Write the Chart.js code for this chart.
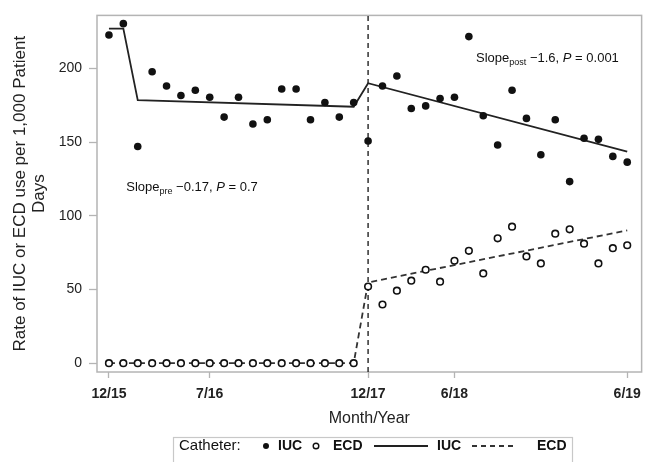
<!DOCTYPE html>
<html lang="en">
<head>
    <meta charset="UTF-8">
    <title>IUC and ECD use</title>
    <style>
        body {
            margin: 0;
            background: #fff;
        }
        .chart-container {
            position: relative;
            width: 649px;
            height: 462px;
        }
    </style>
</head>
<body>
    <div class="chart-container">
        <canvas id="rateChart"></canvas>
    </div>
    <script src="https://cdn.jsdelivr.net/npm/chart.js"></script>
    <script>
        // observation index along x; labels only at a few of them
        const tickIndex = [0, 7, 18, 24, 36];
        const tickLabels = ['12/15', '7/16', '12/17', '6/18', '6/19'];
        const yTicks = [0, 50, 100, 150, 200];

        const iucRate = [222.7, 230.4, 147, 197.8, 188.1, 181.6, 185.2, 180.5, 167, 180.5,
            162.3, 165.2, 186.1, 186.1, 165.2, 176.9, 167, 176.9, 150.8,
            188.1, 194.9, 172.8, 174.6, 179.6, 180.5, 221.6, 167.9, 148.1, 185.2,
            166.1, 141.4, 165.2, 123.2, 152.6, 151.9, 140.3, 136.4];
        const ecdRate = [0, 0, 0, 0, 0, 0, 0, 0, 0, 0, 0, 0, 0, 0, 0, 0, 0, 0,
            52, 39.8, 49.2, 56, 63.4, 55.3, 69.5, 76.2, 60.9, 84.7, 92.6,
            72.4, 67.7, 87.9, 90.8, 81.1, 67.7, 78, 80];

        // fitted segmented regression, vertices only
        const iucFitX = [0, 1, 2, 17, 18, 36];
        const iucFitY = [227, 227, 178.5, 174, 190, 143.6];
        const ecdFitX = [0, 17, 18, 36];
        const ecdFitY = [0, 0, 54.8, 90.1];

        const interventionAt = 18;

        const xy = (xs, ys) => xs.map((x, i) => ({ x: x, y: ys[i] }));
        const byIndex = (ys) => ys.map((y, i) => ({ x: i, y: y }));

        const INK = '#111';
        const GRAY = '#b4b4b4';

        const framePlugin = {
            id: 'frame',
            beforeDatasetsDraw(chart) {
                const { ctx, chartArea: a } = chart;
                ctx.save();
                ctx.strokeStyle = GRAY;
                ctx.lineWidth = 1.5;
                ctx.strokeRect(a.left, a.top, a.right - a.left, a.bottom - a.top);
                ctx.restore();
            }
        };

        function slopeText(ctx, x, y, sub, rest, pval) {
            ctx.textBaseline = 'middle';
            ctx.textAlign = 'left';
            ctx.fillStyle = INK;
            ctx.font = '13px "Liberation Sans", Arial, sans-serif';
            ctx.fillText('Slope', x, y);
            x += ctx.measureText('Slope').width;
            ctx.font = '9px "Liberation Sans", Arial, sans-serif';
            ctx.fillText(sub, x, y + 4);
            x += ctx.measureText(sub).width;
            ctx.font = '13px "Liberation Sans", Arial, sans-serif';
            const s1 = ' ' + rest + ', ';
            ctx.fillText(s1, x, y);
            x += ctx.measureText(s1).width;
            ctx.font = 'italic 13px "Liberation Sans", Arial, sans-serif';
            ctx.fillText('P', x, y);
            x += ctx.measureText('P').width;
            ctx.font = '13px "Liberation Sans", Arial, sans-serif';
            ctx.fillText(' = ' + pval, x, y);
        }

        const notesPlugin = {
            id: 'notes',
            afterDatasetsDraw(chart) {
                const { ctx, scales } = chart;
                ctx.save();
                slopeText(ctx, scales.x.getPixelForValue(1.2), scales.y.getPixelForValue(119),
                    'pre', '\u22120.17', '0.7');
                slopeText(ctx, scales.x.getPixelForValue(25.5), scales.y.getPixelForValue(207),
                    'post', '\u22121.6', '0.001');
                ctx.restore();
            }
        };

        const legendPlugin = {
            id: 'catheterLegend',
            afterDraw(chart) {
                const { ctx } = chart;
                const ds = chart.data.datasets;
                const cy = 446;
                ctx.save();
                ctx.strokeStyle = '#c8c8c8';
                ctx.lineWidth = 1.2;
                ctx.strokeRect(173.5, 437.5, 399, 26);
                ctx.fillStyle = INK;
                ctx.textBaseline = 'middle';
                ctx.textAlign = 'left';
                ctx.font = '15px "Liberation Sans", Arial, sans-serif';
                ctx.fillText('Catheter:', 179, cy);
                ctx.font = 'bold 14px "Liberation Sans", Arial, sans-serif';

                // filled marker
                ctx.beginPath();
                ctx.arc(266, cy, 3, 0, Math.PI * 2);
                ctx.fillStyle = ds[0].backgroundColor;
                ctx.fill();
                ctx.fillStyle = INK;
                ctx.fillText(ds[0].label, 278, cy);

                // open marker
                ctx.beginPath();
                ctx.arc(316, cy, 2.8, 0, Math.PI * 2);
                ctx.fillStyle = '#fff';
                ctx.fill();
                ctx.lineWidth = 1.4;
                ctx.strokeStyle = ds[1].borderColor;
                ctx.stroke();
                ctx.fillStyle = INK;
                ctx.fillText(ds[1].label, 333, cy);

                // solid line
                ctx.beginPath();
                ctx.moveTo(374, cy);
                ctx.lineTo(428, cy);
                ctx.lineWidth = ds[2].borderWidth;
                ctx.strokeStyle = ds[2].borderColor;
                ctx.stroke();
                ctx.fillText(ds[2].label, 437, cy);

                // dashed line
                ctx.beginPath();
                ctx.setLineDash([5, 4]);
                ctx.moveTo(472, cy);
                ctx.lineTo(514, cy);
                ctx.lineWidth = ds[3].borderWidth;
                ctx.strokeStyle = ds[3].borderColor;
                ctx.stroke();
                ctx.setLineDash([]);
                ctx.fillText(ds[3].label, 537, cy);
                ctx.restore();
            }
        };

        const ctx = document.getElementById('rateChart').getContext('2d');
        new Chart(ctx, {
            type: 'scatter',
            data: {
                datasets: [
                    {
                        label: 'IUC',
                        data: byIndex(iucRate),
                        backgroundColor: INK,
                        borderColor: INK,
                        pointRadius: 3.8,
                        borderWidth: 0
                    },
                    {
                        label: 'ECD',
                        data: byIndex(ecdRate),
                        backgroundColor: '#fff',
                        borderColor: INK,
                        pointRadius: 3.3,
                        borderWidth: 1.6
                    },
                    {
                        label: 'IUC',
                        data: xy(iucFitX, iucFitY),
                        showLine: true,
                        pointRadius: 0,
                        borderColor: '#222',
                        borderWidth: 1.8,
                        tension: 0
                    },
                    {
                        label: 'ECD',
                        data: xy(ecdFitX, ecdFitY),
                        showLine: true,
                        pointRadius: 0,
                        borderColor: '#333',
                        borderWidth: 1.8,
                        borderDash: [6, 4],
                        tension: 0
                    },
                    {
                        label: 'intervention',
                        data: [{ x: interventionAt, y: -6 }, { x: interventionAt, y: 236 }],
                        showLine: true,
                        pointRadius: 0,
                        borderColor: '#222',
                        borderWidth: 1.4,
                        borderDash: [5, 4]
                    }
                ]
            },
            options: {
                responsive: true,
                maintainAspectRatio: false,
                animation: false,
                events: [],
                layout: {
                    padding: { left: 0, top: 13, right: 2, bottom: 32 }
                },
                plugins: {
                    legend: { display: false },
                    tooltip: { enabled: false }
                },
                scales: {
                    x: {
                        type: 'linear',
                        min: -0.83,
                        max: 37.0,
                        afterBuildTicks: (scale) => {
                            scale.ticks = tickIndex.map(v => ({ value: v }));
                        },
                        afterFit: (scale) => {
                            scale.height = 58;
                        },
                        grid: {
                            drawOnChartArea: false,
                            drawTicks: true,
                            tickLength: 6,
                            tickColor: GRAY,
                            tickWidth: 1.3
                        },
                        border: { display: false },
                        ticks: {
                            padding: 8,
                            autoSkip: false,
                            maxRotation: 0,
                            color: '#222',
                            font: { family: '"Liberation Sans", Arial, sans-serif', size: 14, weight: 'bold' },
                            callback: (v) => tickLabels[tickIndex.indexOf(v)]
                        },
                        title: {
                            display: true,
                            text: 'Month/Year',
                            color: '#222',
                            padding: { top: 0, bottom: 2 },
                            font: { family: '"Liberation Sans", Arial, sans-serif', size: 16 }
                        }
                    },
                    y: {
                        min: -6,
                        max: 236,
                        afterBuildTicks: (scale) => {
                            scale.ticks = yTicks.map(v => ({ value: v }));
                        },
                        afterFit: (scale) => {
                            scale.width = 97;
                        },
                        grid: {
                            drawOnChartArea: false,
                            drawTicks: true,
                            tickLength: 8,
                            tickColor: GRAY,
                            tickWidth: 1.3
                        },
                        border: { display: false },
                        ticks: {
                            padding: 7,
                            color: '#222',
                            font: { family: '"Liberation Sans", Arial, sans-serif', size: 14 }
                        },
                        title: {
                            display: true,
                            text: ['Rate of IUC or ECD use per 1,000 Patient', 'Days'],
                            color: '#222',
                            padding: { top: 11, bottom: 0 },
                            font: { family: '"Liberation Sans", Arial, sans-serif', size: 17, lineHeight: 1.1 }
                        }
                    }
                }
            },
            plugins: [framePlugin, notesPlugin, legendPlugin]
        });
    </script>
</body>
</html>
